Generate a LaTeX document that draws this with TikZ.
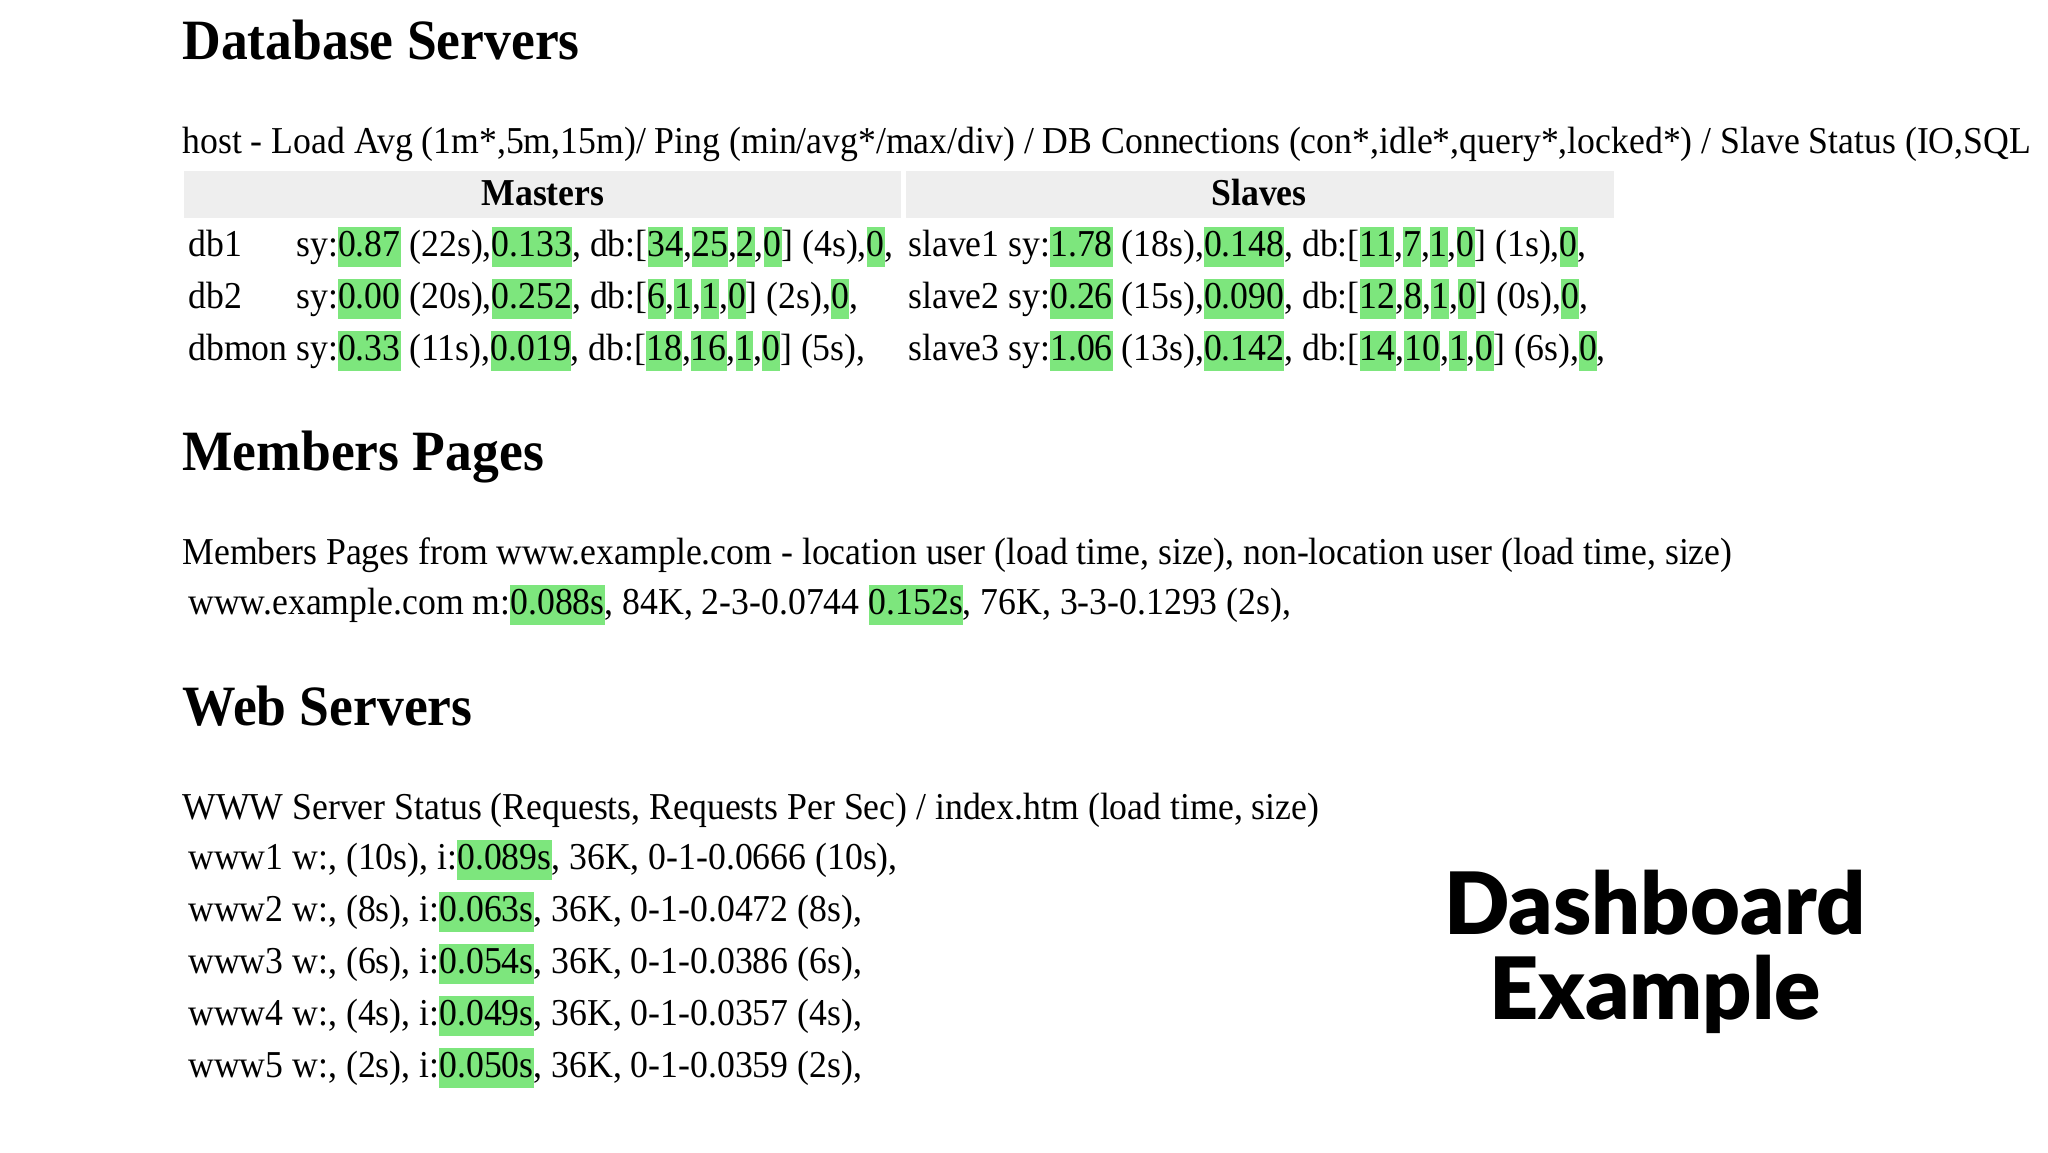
\documentclass[tikz,border=0pt]{standalone}
\usepackage{fontspec}
\setmainfont{Liberation Serif}[FakeStretch=0.94]
\newfontfamily\titlefont{Lato Black}
\definecolor{hl}{HTML}{7DE67D}
\definecolor{hdr}{HTML}{EEEEEE}
\newcommand{\hg}[1]{\begingroup\setlength{\fboxsep}{0pt}\colorbox{hl}{\rule[-0.28em]{0pt}{1.05em}#1}\endgroup}
\tikzset{
  txt/.style={anchor=base west, inner sep=0pt, font=\fontsize{19}{22}\selectfont},
  head/.style={anchor=base west, inner sep=0pt, font=\fontsize{28.5}{32}\selectfont\bfseries},
  th/.style={anchor=base, inner sep=0pt, font=\fontsize{19}{22}\selectfont\bfseries},
  big/.style={anchor=base, inner sep=0pt, font=\titlefont\fontsize{43}{48}\selectfont},
}
\begin{document}
\begin{tikzpicture}[x=0.5pt,y=-0.5pt]
\useasboundingbox (0,0) rectangle (2048,1152);
\fill[white] (0,0) rectangle (2048,1152);
\node[head] (h1) at (182,59) {Database Servers};
\node[txt] (hl1) at (182,153) {host - Load Avg (1m*,5m,15m)/ Ping (min/avg*/max/div) / DB Connections (con*,idle*,query*,locked*) / Slave Status (IO,SQL};
\fill[hdr] (184,171) rectangle (901,218);
\fill[hdr] (906,171) rectangle (1614,218);
\node[th] (tm) at (543,205) {Masters};
\node[th] (ts) at (1259,205) {Slaves};
\node[txt] (r1a) at (188,256) {db1};
\node[txt] (r1b) at (296,256) {sy:\hg{0.87} (22s),\hg{0.133}, db:[\hg{34},\hg{25},\hg{2},\hg{0}] (4s),\hg{0},};
\node[txt] (r2a) at (188,308) {db2};
\node[txt] (r2b) at (296,308) {sy:\hg{0.00} (20s),\hg{0.252}, db:[\hg{6},\hg{1},\hg{1},\hg{0}] (2s),\hg{0},};
\node[txt] (r3a) at (188,360) {dbmon};
\node[txt] (r3b) at (296,360) {sy:\hg{0.33} (11s),\hg{0.019}, db:[\hg{18},\hg{16},\hg{1},\hg{0}] (5s),};
\node[txt] (s1) at (908,256) {slave1 sy:\hg{1.78} (18s),\hg{0.148}, db:[\hg{11},\hg{7},\hg{1},\hg{0}] (1s),\hg{0},};
\node[txt] (s2) at (908,308) {slave2 sy:\hg{0.26} (15s),\hg{0.090}, db:[\hg{12},\hg{8},\hg{1},\hg{0}] (0s),\hg{0},};
\node[txt] (s3) at (908,360) {slave3 sy:\hg{1.06} (13s),\hg{0.142}, db:[\hg{14},\hg{10},\hg{1},\hg{0}] (6s),\hg{0},};
\node[head] (h2) at (182,470) {Members Pages};
\node[txt] (m1) at (182,564) {Members Pages from www.example.com - location user (load time, size), non-location user (load time, size)};
\node[txt] (m2) at (188,614) {www.example.com m:\hg{0.088s}, 84K, 2-3-0.0744 \hg{0.152s}, 76K, 3-3-0.1293 (2s),};
\node[head] (h3) at (182,725) {Web Servers};
\node[txt] (w0) at (182,819) {WWW Server Status (Requests, Requests Per Sec) / index.htm (load time, size)};
\node[txt] (w1) at (188,869) {www1 w:, (10s), i:\hg{0.089s}, 36K, 0-1-0.0666 (10s),};
\node[txt] (w2) at (188,921) {www2 w:, (8s), i:\hg{0.063s}, 36K, 0-1-0.0472 (8s),};
\node[txt] (w3) at (188,973) {www3 w:, (6s), i:\hg{0.054s}, 36K, 0-1-0.0386 (6s),};
\node[txt] (w4) at (188,1025) {www4 w:, (4s), i:\hg{0.049s}, 36K, 0-1-0.0357 (4s),};
\node[txt] (w5) at (188,1077) {www5 w:, (2s), i:\hg{0.050s}, 36K, 0-1-0.0359 (2s),};
\node[big] (de1) at (1655,934) {Dashboard};
\node[big] (de2) at (1655,1019) {Example};
\end{tikzpicture}
\end{document}
